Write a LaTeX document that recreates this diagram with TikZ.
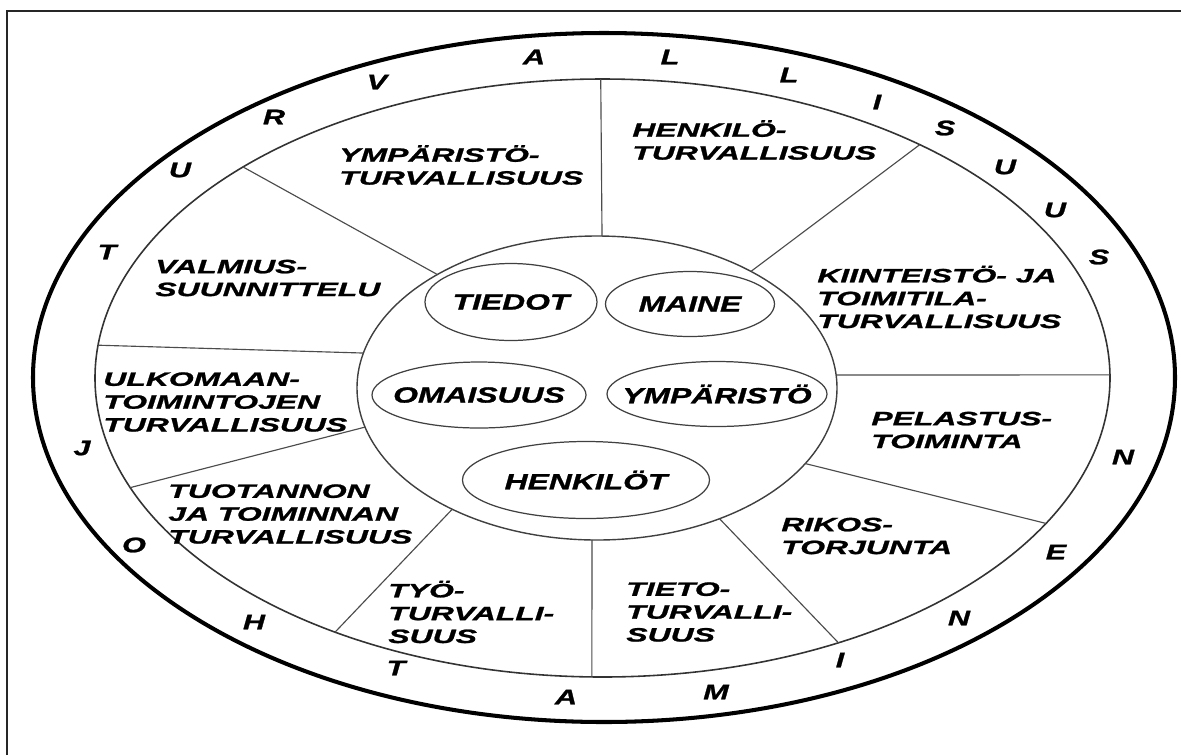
\documentclass[tikz,border=0pt]{standalone}
\usepackage{fontspec}
\usetikzlibrary{shapes.geometric}
\newfontfamily\ringfont[FakeStretch=1.65,FakeBold=1.2]{Liberation Sans}
\newfontfamily\letfont[FakeStretch=1.45,FakeBold=1.2]{Liberation Sans}
\newdimen\px \px=0.02cm
\begin{document}
\begin{tikzpicture}[x=0.02cm, y=-0.02cm,
  ring/.style={font=\ringfont\bfseries\itshape\fontsize{11}{13}\selectfont, align=left, anchor=west, inner sep=0pt},
  letter/.style={font=\letfont\bfseries\itshape\fontsize{12}{14}\selectfont, inner sep=0pt},
  core/.style={draw=black!75, line width=0.7pt, ellipse, inner sep=0pt, font=\letfont\bfseries\itshape\fontsize{12.5}{15}\selectfont},
  divider/.style={draw=black!70, line width=0.65pt},
]
\useasboundingbox (0,0) rectangle (1181,755);
\fill[white] (0,0) rectangle (1181,755);
% frame
\draw[line width=1.1pt, black!85] (7,755) -- (7,11) -- (1181,11);
% rings
\coordinate (oc) at (604,377.5);
\coordinate (mc) at (602.5,378);
\coordinate (ic) at (597,388);
\draw[line width=2.3pt] (oc) ellipse [x radius=571, y radius=344.5];
\draw[line width=0.9pt, black!80] (mc) ellipse [x radius=507.5, y radius=299];
\draw[line width=0.8pt, black!75] (ic) ellipse [x radius=240, y radius=152];
% dividers
\draw[divider] ([shift={(mc)}]269.8:507.5 and 299) -- ([shift={(ic)}]271.2:240 and 152);
\draw[divider] ([shift={(mc)}]-51.3:507.5 and 299) -- ([shift={(ic)}]-50.1:240 and 152);
\draw[divider] ([shift={(mc)}]-0.6:507.5 and 299) -- ([shift={(ic)}]-4.9:240 and 152);
\draw[divider] ([shift={(mc)}]29.1:507.5 and 299) -- ([shift={(ic)}]29.8:240 and 152);
\draw[divider] ([shift={(mc)}]62.3:507.5 and 299) -- ([shift={(ic)}]59.3:240 and 152);
\draw[divider] ([shift={(mc)}]91.2:507.5 and 299) -- ([shift={(ic)}]91.2:240 and 152);
\draw[divider] ([shift={(mc)}]121.8:507.5 and 299) -- ([shift={(ic)}]127.1:240 and 152);
\draw[divider] ([shift={(mc)}]158.5:507.5 and 299) -- ([shift={(ic)}]165.1:240 and 152);
\draw[divider] ([shift={(mc)}]186.3:507.5 and 299) -- ([shift={(ic)}]193.3:240 and 152);
\draw[divider] ([shift={(mc)}]224.9:507.5 and 299) -- ([shift={(ic)}]228.3:240 and 152);
% sector texts
\node[ring] (t1) at (339,165) {YMPÄRISTÖ-\\TURVALLISUUS};
\node[ring] (t2) at (632,140) {HENKILÖ-\\TURVALLISUUS};
\node[ring] (t3) at (817,297) {KIINTEISTÖ- JA\\TOIMITILA-\\TURVALLISUUS};
\node[ring] (t4) at (871,430) {PELASTUS-\\TOIMINTA};
\node[ring] (t5) at (781,536) {RIKOS-\\TORJUNTA};
\node[ring] (t6) at (626,612) {TIETO-\\TURVALLI-\\SUUS};
\node[ring] (t7) at (388,612) {TYÖ-\\TURVALLI-\\SUUS};
\node[ring] (t8) at (168,514) {TUOTANNON\\JA TOIMINNAN\\TURVALLISUUS};
\node[ring] (t9) at (103,402) {ULKOMAAN-\\TOIMINTOJEN\\TURVALLISUUS};
\node[ring] (t10) at (155,278) {VALMIUS-\\SUUNNITTELU};
% core ellipses
\node[core, minimum width=172*\px, minimum height=77*\px] (tiedot) at (511,302) {\makebox[0pt]{TIEDOT}};
\node[core, minimum width=169*\px, minimum height=65*\px] (maine) at (690,304) {\makebox[0pt]{MAINE}};
\node[core, minimum width=214*\px, minimum height=66*\px] (omaisuus) at (479,395) {\makebox[0pt]{OMAISUUS}};
\node[core, minimum width=220*\px, minimum height=65*\px] (ymparisto) at (717,394) {\makebox[0pt]{YMPÄRISTÖ}};
\node[core, minimum width=247*\px, minimum height=77*\px] (henkilot) at (586,480) {\makebox[0pt]{HENKILÖT}};
% outer ring letters
\node[letter] (l1) at (107,252) {T};
\node[letter] (l2) at (180,170) {U};
\node[letter] (l3) at (274,117) {R};
\node[letter] (l4) at (377,82) {V};
\node[letter] (l5) at (534,57) {A};
\node[letter] (l6) at (670,57) {L};
\node[letter] (l7) at (789,75) {L};
\node[letter] (l8) at (877,102) {I};
\node[letter] (l9) at (945,128) {S};
\node[letter] (l10) at (1005,167) {U};
\node[letter] (l11) at (1055,210) {U};
\node[letter] (l12) at (1099,257) {S};
\node[letter] (l13) at (1123,457) {N};
\node[letter] (l14) at (1056,552) {E};
\node[letter] (l15) at (959,618) {N};
\node[letter] (l16) at (840,660) {I};
\node[letter] (l17) at (716,692) {M};
\node[letter] (l18) at (566,697) {A};
\node[letter] (l19) at (396,668) {T};
\node[letter] (l20) at (254,622) {H};
\node[letter] (l21) at (134,545) {O};
\node[letter] (l22) at (82,448) {J};
\end{tikzpicture}
\end{document}
